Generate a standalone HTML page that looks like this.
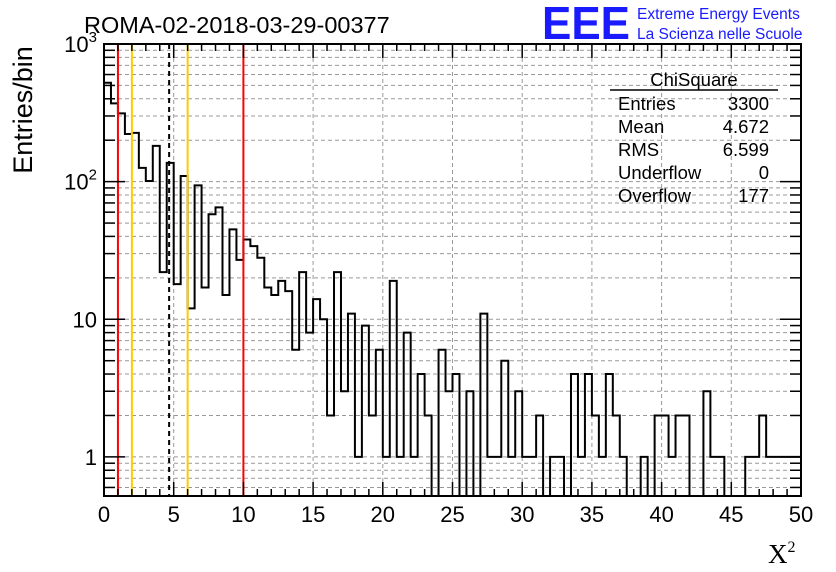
<!DOCTYPE html>
<html><head><meta charset="utf-8"><style>
body{margin:0;background:#fff;width:836px;height:572px;overflow:hidden}
svg{display:block;font-family:"Liberation Sans",sans-serif}
</style></head><body>
<svg id="c" width="836" height="572" xmlns="http://www.w3.org/2000/svg">
<text x="84" y="33" font-size="23.5">ROMA-02-2018-03-29-00377</text>
<text x="542" y="39" font-size="46" font-weight="bold" fill="#1a1aff" textLength="88" lengthAdjust="spacingAndGlyphs">EEE</text>
<text x="637" y="19" font-size="15.5" fill="#1a1aff">Extreme Energy Events</text>
<text x="637" y="39" font-size="15.5" fill="#1a1aff">La Scienza nelle Scuole</text>
<text transform="translate(32,110) rotate(-90)" text-anchor="middle" font-size="27">Entries/bin</text>
<text x="768" y="563" font-size="27" font-family="Liberation Serif,serif">X<tspan font-size="16" dy="-11">2</tspan></text>
<g id="grid"></g><g id="marks"></g><g id="axes"></g>
<g font-size="18.5">
<line x1="610" y1="90" x2="778" y2="90" stroke="#000" stroke-width="1.5"/>
<text x="694" y="86" text-anchor="middle">ChiSquare</text>
<text x="618" y="110">Entries</text><text x="769" y="110" text-anchor="end">3300</text>
<text x="618" y="133">Mean</text><text x="769" y="133" text-anchor="end">4.672</text>
<text x="618" y="156">RMS</text><text x="769" y="156" text-anchor="end">6.599</text>
<text x="618" y="179">Underflow</text><text x="769" y="179" text-anchor="end">0</text>
<text x="618" y="202">Overflow</text><text x="769" y="202" text-anchor="end">177</text>
</g>
</svg>
<script>
const counts=[523,370,313,222,226,126,101,182,22,137,18,110,12,94,17,58,65,15,45,27,38,34,28,17,15,19,16,6,22,8,14,10,2,22,3,11,1,9,2,6,1,19,1,8,1,4,2,0,6,3,4,0,3,0,11,1,1,5,1,3,1,1,2,0,1,1,0,4,1,4,2,1,4,2,1,0,0,1,0,2,2,1,2,2,0,0,3,1,1,0,0,0,1,1,2,1,1,1,1,1];
const binWidth=0.5;
const xTicks=[0,5,10,15,20,25,30,35,40,45,50];
const yTickVals=[1,10,100,1000];
const yTickLabels=["1","10","10²","10³"];
const cutLines=[{v:1,c:"#f00"},{v:2,c:"#fc0"},{v:6,c:"#fc0"},{v:10,c:"#f00"}];
const meanValue=4.672;
const L=104,R=801,T=44,B=496,XMIN=0,XMAX=50,YMIN=0.52,YMAX=1000;
const X=v=>L+(v-XMIN)/(XMAX-XMIN)*(R-L);
const Y=v=>{if(v<=0)return B;const y=B-(Math.log10(v)-Math.log10(YMIN))/(Math.log10(YMAX)-Math.log10(YMIN))*(B-T);return Math.max(T,Math.min(B,y));};
const NS="http://www.w3.org/2000/svg";
function mk(p,t,a){const e=document.createElementNS(NS,t);for(const k in a)e.setAttribute(k,a[k]);p.appendChild(e);return e;}
const grid=document.getElementById('grid'),marks=document.getElementById('marks'),axes=document.getElementById('axes');
for(const t of xTicks){if(t===XMIN||t===XMAX)continue;const g=mk(grid,'line',{x1:X(t),x2:X(t),y1:T,y2:B,stroke:'#999','stroke-dasharray':'4,3'});

}
for(let d=-1;d<3;d++)for(let m=1;m<10;m++){const v=m*Math.pow(10,d);if(v<YMIN||v>=YMAX)continue;const g=mk(grid,'line',{x1:L,x2:R,y1:Y(v),y2:Y(v),stroke:'#999','stroke-dasharray':'4,3'});

}
let d=`M${X(0)},${B}`;
counts.forEach((c,i)=>{const y=Y(c);d+=` L${X(i*binWidth)},${y} L${X((i+1)*binWidth)},${y}`;});
d+=` L${X(counts.length*binWidth)},${B}`;
const h=mk(marks,'path',{d:d,fill:'none',stroke:'#000','stroke-width':2});


for(const c of cutLines){const l=mk(marks,'line',{x1:X(c.v),x2:X(c.v),y1:T,y2:B,stroke:c.c,'stroke-width':2});

}
const ml=mk(marks,'line',{x1:X(meanValue),x2:X(meanValue),y1:T,y2:B,stroke:'#000','stroke-width':2,'stroke-dasharray':'5,4'});


const fr=mk(axes,'rect',{x:L,y:T,width:R-L,height:B-T,fill:'none',stroke:'#000','stroke-width':2});


for(let v=0;v<=50;v+=1){const maj=v%5===0,len=maj?14:7;
mk(axes,'line',{x1:X(v),x2:X(v),y1:B,y2:B-len,stroke:'#000','stroke-width':1.5});
mk(axes,'line',{x1:X(v),x2:X(v),y1:T,y2:T+len,stroke:'#000','stroke-width':1.5});}
for(const t of xTicks){const tx=mk(axes,'text',{x:X(t),y:522,'text-anchor':'middle','font-size':22});tx.textContent=t;

}
for(let dd=-1;dd<3;dd++)for(let m=1;m<10;m++){const v=m*Math.pow(10,dd);if(v<YMIN||v>YMAX)continue;const len=m===1?21:11;
mk(axes,'line',{x1:L,x2:L+len,y1:Y(v),y2:Y(v),stroke:'#000','stroke-width':1.5});
mk(axes,'line',{x1:R,x2:R-len,y1:Y(v),y2:Y(v),stroke:'#000','stroke-width':1.5});}
yTickVals.forEach((v,i)=>{const tx=mk(axes,'text',{x:97,y:Y(v)+8,'text-anchor':'end','font-size':22});
const lab=yTickLabels[i];
if(lab.length>2&&lab[0]==='1'&&lab[1]==='0'){tx.textContent='10';const s=mk(tx,'tspan',{'font-size':15,dy:-10});s.textContent=lab==='10²'?'2':'3';}else tx.textContent=lab;

});
</script>
</body></html>
